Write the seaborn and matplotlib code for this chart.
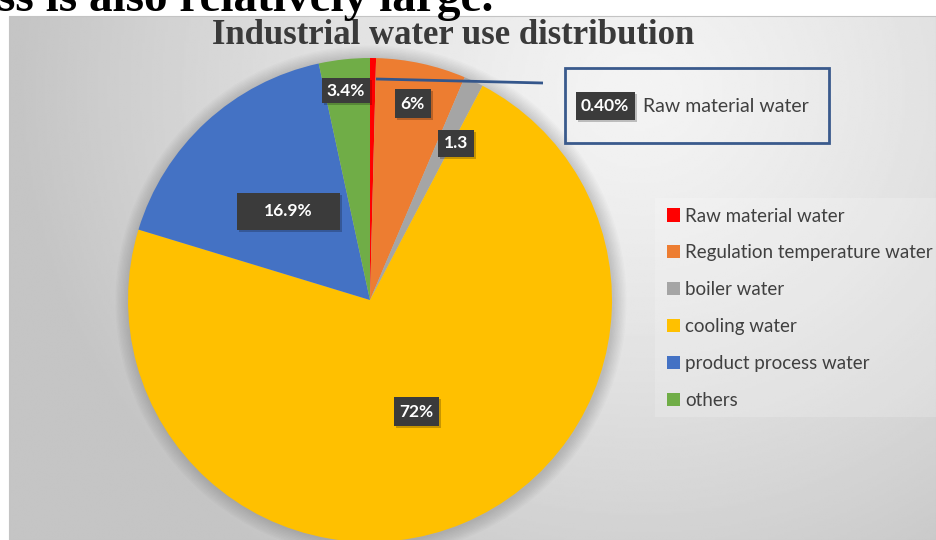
import numpy as np
import matplotlib
matplotlib.use("Agg")
import matplotlib.pyplot as plt
from matplotlib.patches import Rectangle, Circle
import seaborn as sns

# ---- data -------------------------------------------------------------
categories = ["Raw material water", "Regulation temperature water", "boiler water",
              "cooling water", "product process water", "others"]
shares = [0.4, 6, 1.3, 72, 16.9, 3.4]
value_labels = ["0.40%", "6%", "1.3", "72%", "16.9%", "3.4%"]
colors = ["#FF0000", "#ED7D31", "#A5A5A5", "#FFC000", "#4472C4", "#70AD47"]
title = "Industrial water use distribution"
heading_tail = "ess is also relatively large."

# ---- layout (pixel units, measured from the top-left corner) ----------
W, H = 936, 540
CX, CY, R = 370, 300, 242
# radial fraction and angular nudge (deg) for each in-slice label
label_r = [None, 0.83, 0.74, 0.5, 0.5, 0.87]
label_nudge = [0, 0, 3.5, 0, 0, -0.5]
box_w = [59, 36, 36, 45, 103, 48]
box_h = [28, 29, 27, 29, 37, 25]

sns.set_theme(style="white")
plt.rcParams["font.family"] = ["Lato", "DejaVu Sans"]


def Y(top):
    return H - top


fig = plt.figure(figsize=(W / 100, H / 100), dpi=100)
ax = fig.add_axes([0, 0, 1, 1])
ax.set_xlim(0, W)
ax.set_ylim(0, H)
ax.axis("off")

# panel background: soft radial grey gradient
px0, ptop = 9, 16
xs = np.linspace(px0, W, 400)
ys = np.linspace(Y(H), Y(ptop), 240)
gx, gy = np.meshgrid(xs, ys)
d = np.sqrt(((gx - 640) / 560) ** 2 + ((gy - Y(90)) / 520) ** 2)
shade = np.clip(0.955 - 0.16 * d ** 1.3, 0.77, 0.955)
ax.imshow(shade, cmap="gray", vmin=0, vmax=1, origin="lower",
          extent=[px0, W, Y(H), Y(ptop)], zorder=0, aspect="auto", interpolation="bilinear")
ax.add_patch(Rectangle((px0, Y(H)), W - px0, H - ptop, fill=False,
                       ec="#c4c4c4", lw=0.8, zorder=0.5))

# soft shadow around the pie
for k in range(10):
    ax.add_patch(Circle((CX + 1, Y(CY) - 1), R + 1 + k * 1.4, color="black",
                        alpha=0.016, lw=0, zorder=1))

wedges, _ = ax.pie(shares, colors=colors, startangle=90, counterclock=False,
                   center=(CX, Y(CY)), radius=R, frame=True,
                   wedgeprops=dict(linewidth=0, zorder=2))
ax.set_xlim(0, W)
ax.set_ylim(0, H)
ax.set_aspect("auto")
ax.axis("off")


def value_box(x, y, w, h, text, size=12.5):
    ax.add_patch(Rectangle((x - w / 2 + 2, y - h / 2 - 2), w, h, color="black",
                           alpha=0.22, lw=0, zorder=4))
    ax.add_patch(Rectangle((x - w / 2, y - h / 2), w, h, color="#3b3b3b", lw=0, zorder=5))
    ax.text(x, y, text, color="white", fontsize=size, fontweight="bold",
            ha="center", va="center", zorder=6)


for i, wdg in enumerate(wedges):
    if label_r[i] is None:
        continue
    ang = np.deg2rad((wdg.theta1 + wdg.theta2) / 2 - label_nudge[i])
    lx = CX + label_r[i] * R * np.cos(ang)
    ly = Y(CY) + label_r[i] * R * np.sin(ang)
    value_box(lx, ly, box_w[i], box_h[i], value_labels[i])

# callout for the thinnest slice
ax.plot([376, 543], [Y(79), Y(83)], color="#34568B", lw=2.0, zorder=7,
        solid_capstyle="butt")
ax.add_patch(Rectangle((565, Y(143)), 264, 75, fill=False, ec="#3A5A8C", lw=2.0, zorder=7))
value_box(605, Y(106), box_w[0], box_h[0], value_labels[0])
ax.text(643, Y(106), categories[0], color="#404040", fontsize=14,
        ha="left", va="center", zorder=6)

# legend
ax.add_patch(Rectangle((655, Y(417)), W - 655, 219, color="white", alpha=0.18,
                       lw=0, zorder=1))
leg = ax.legend(wedges, categories, loc="upper left", bbox_to_anchor=(659 / W, Y(200) / H),
                frameon=False, fontsize=13.5, handlelength=0.7, handleheight=0.7,
                handletextpad=0.3, labelspacing=1.06, borderaxespad=0)
for t in leg.get_texts():
    t.set_color("#404040")

# title and the heading line cut off at the top
ax.text(453, Y(35), title, ha="center", va="center", fontsize=25, fontweight="bold",
        family=["Liberation Serif", "DejaVu Serif"], color="#3a3a3a", zorder=6)
ax.text(-24, Y(11), heading_tail, ha="left", va="baseline", fontsize=34, fontweight="bold",
        family=["Liberation Serif", "DejaVu Serif"], color="black", zorder=8)

fig.savefig("out.png", dpi=100)
